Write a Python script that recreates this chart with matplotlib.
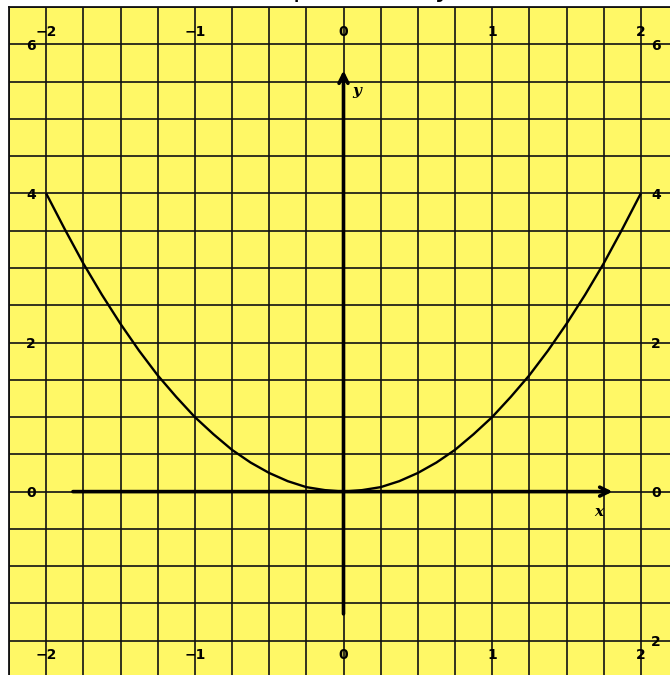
import matplotlib
matplotlib.use('Agg')
import matplotlib.pyplot as plt
import numpy as np

# точки кривой
x_pts = [-2.0, -1.875, -1.75, -1.625, -1.5, -1.375, -1.25, -1.125, -1.0,
         -0.875, -0.75, -0.625, -0.5, -0.375, -0.25, -0.125, 0.0,
         0.125, 0.25, 0.375, 0.5, 0.625, 0.75, 0.875, 1.0,
         1.125, 1.25, 1.375, 1.5, 1.625, 1.75, 1.875, 2.0]
y_pts = [4.0, 3.52, 3.06, 2.64, 2.25, 1.89, 1.56, 1.27, 1.0,
         0.77, 0.56, 0.39, 0.25, 0.14, 0.06, 0.02, 0.0,
         0.02, 0.06, 0.14, 0.25, 0.39, 0.56, 0.77, 1.0,
         1.27, 1.56, 1.89, 2.25, 2.64, 3.06, 3.52, 4.0]

x_ticks = [-2, -1, 0, 1, 2]
x_labels = ['\u22122', '\u22121', '0', '1', '2']
y_ticks_left = [6, 4, 2, 0]
y_labels_left = ['6', '4', '2', '0']
y_ticks_right = [6, 4, 2, 0, -2]
y_labels_right = ['6', '4', '2', '0', '2']

title_text = '(standard parabola) y = x\u00b2'

yellow = '#fff866'

fig = plt.figure(figsize=(6.7, 6.75), dpi=100)
ax = fig.add_axes([9/670, -3/675, 669/670, 671/675])
ax.set_xlim(-2.25, 2.25)
ax.set_ylim(-2.5, 6.5)
ax.set_facecolor(yellow)

# сетка
ax.set_xticks(np.arange(-2.25, 2.26, 0.25))
ax.set_yticks(np.arange(-2.5, 6.51, 0.5))
ax.tick_params(length=0, labelbottom=False, labelleft=False)
ax.grid(True, color='#111111', lw=1.2)
ax.set_axisbelow(True)
for s in ax.spines.values():
    s.set_color('#111111')
    s.set_linewidth(1.3)

# подписи делений
lab = dict(fontsize=10, fontweight='heavy', color='black', clip_on=False)
for v, t in zip(x_ticks, x_labels):
    ax.text(v, 6.17, t, ha='center', va='center', **lab)
    ax.text(v, -2.19, t, ha='center', va='center', **lab)
for v, t in zip(y_ticks_left, y_labels_left):
    ax.text(-2.07, v - 0.02, t, ha='right', va='center', **lab)
for v, t in zip(y_ticks_right, y_labels_right):
    ax.text(2.07, v - 0.02, t, ha='left', va='center', **lab)

# оси со стрелками
ax.annotate('', xy=(1.81, 0), xytext=(-1.82, 0),
            arrowprops=dict(arrowstyle='->', lw=2.6, color='black', mutation_scale=16,
                            shrinkA=0, shrinkB=0))
ax.annotate('', xy=(0, 5.65), xytext=(0, -1.64),
            arrowprops=dict(arrowstyle='->', lw=2.6, color='black', mutation_scale=16,
                            shrinkA=0, shrinkB=0))
ax.text(1.72, -0.27, 'x', fontsize=11, fontweight='bold', fontstyle='italic',
        family='DejaVu Serif', ha='center', va='center')
ax.text(0.09, 5.37, 'y', fontsize=11, fontweight='bold', fontstyle='italic',
        family='DejaVu Serif', ha='center', va='center')

# кривая
ax.plot(x_pts, y_pts, color='black', lw=1.7, solid_capstyle='butt')

# заголовок (почти весь за краем)
fig.text(150/670, 1.0065, title_text, fontsize=20, ha='left', va='baseline')

fig.savefig('out.png', dpi=100, facecolor='white')
